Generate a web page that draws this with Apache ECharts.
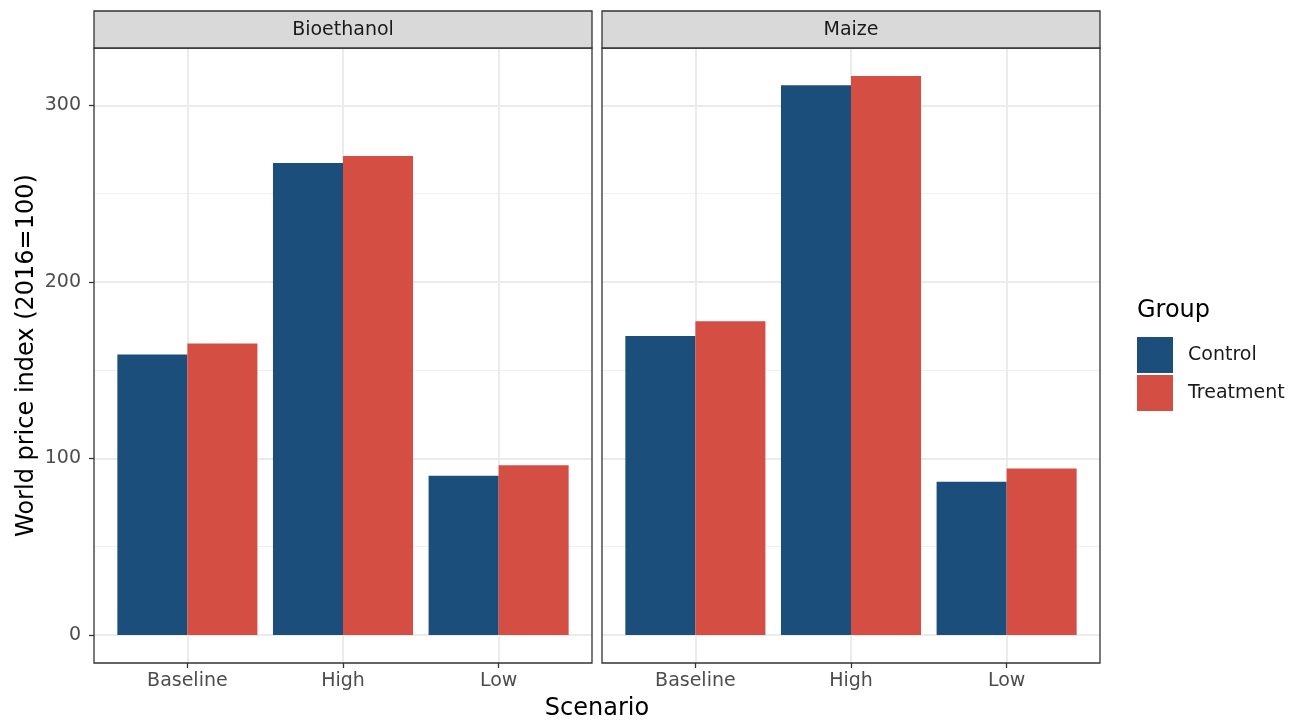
<!DOCTYPE html>
<html><head><meta charset="utf-8">
<script src="https://cdn.jsdelivr.net/npm/echarts@6/dist/echarts.min.js"></script>
<style>html,body{margin:0;padding:0;background:#fff}#c{width:1301px;height:722px}</style>
</head><body><div id="c"></div><script>
// ---- data ----
const facets = ['Bioethanol', 'Maize'];
const scenarios = ['Baseline', 'High', 'Low'];
const groups = ['Control', 'Treatment'];
const bioethanolControl = [158.9, 267.3, 90.2];
const bioethanolTreatment = [165.1, 271.3, 96.2];
const maizeControl = [169.4, 311.3, 86.8];
const maizeTreatment = [177.7, 316.6, 94.3];
const yTicks = [0, 100, 200, 300];
const xTitle = 'Scenario';
const yTitle = 'World price index (2016=100)';
const legendTitle = 'Group';

const facetValues = {
  Bioethanol: { Control: bioethanolControl, Treatment: bioethanolTreatment },
  Maize: { Control: maizeControl, Treatment: maizeTreatment }
};
const groupColors = { Control: '#1C4E7C', Treatment: '#D54E44' };

// ---- layout ----
const FONT = 'DejaVu Sans';
const panelX = [94, 602], panelW = 498, panelTop = 48, panelBot = 663, stripTop = 11;
const panelH = panelBot - panelTop;
const allVals = [].concat(bioethanolControl, bioethanolTreatment, maizeControl, maizeTreatment);
const dataMax = Math.max(...allVals);
const yMin = -0.05 * dataMax, yMax = 1.05 * dataMax;
const pxPerUnit = panelH / (yMax - yMin);
const unit = panelW / 3.2;
const tickMax = yTicks[yTicks.length - 1], tickMin = yTicks[0];
const tickInterval = yTicks[1] - yTicks[0];

const grid = [], xAxis = [], yAxis = [], series = [], graphic = [];
facets.forEach((f, i) => {
  const px = panelX[i];
  // border grid
  grid.push({ left: px, top: panelTop, width: panelW, height: panelH, show: true,
    borderColor: '#333333', borderWidth: 1.3, backgroundColor: 'rgba(0,0,0,0)', z: 5 });
  xAxis.push({ gridIndex: 3 * i, type: 'value', show: false, min: 0, max: 1 });
  yAxis.push({ gridIndex: 3 * i, type: 'value', show: false, min: 0, max: 1 });
  // gridline grid
  grid.push({ left: px, top: panelTop + (yMax - tickMax) * pxPerUnit, width: panelW,
    height: (tickMax - tickMin) * pxPerUnit });
  xAxis.push({ gridIndex: 3 * i + 1, type: 'value', show: false, min: 0, max: 1 });
  yAxis.push({ gridIndex: 3 * i + 1, type: 'value', min: tickMin, max: tickMax, interval: tickInterval,
    axisLine: { show: false },
    axisTick: { show: i === 0, length: 5, lineStyle: { color: '#333333', width: 1.3 } },
    axisLabel: { show: i === 0, fontSize: 19, color: '#4D4D4D', fontFamily: FONT, margin: 13 },
    splitLine: { show: true, lineStyle: { color: '#EBEBEB', width: 2 } },
    minorTick: { show: false, splitNumber: 2 },
    minorSplitLine: { show: true, lineStyle: { color: '#F0F0F0', width: 1 } } });
  // data grid
  grid.push({ left: px + 0.1 * unit, top: panelTop, width: 3 * unit, height: panelH });
  xAxis.push({ gridIndex: 3 * i + 2, type: 'category', data: scenarios,
    axisLine: { show: false, onZero: false },
    axisTick: { show: true, alignWithLabel: true, length: 5, lineStyle: { color: '#333333', width: 1.3 } },
    axisLabel: { fontSize: 19, color: '#4D4D4D', fontFamily: FONT, margin: 9 },
    splitLine: { show: false } });
  yAxis.push({ gridIndex: 3 * i + 2, type: 'value', show: false, min: yMin, max: yMax });

  // vertical major gridlines at category positions (helper series, no bars)
  series.push({
    type: 'line', name: 'grid-' + f, xAxisIndex: 3 * i + 2, yAxisIndex: 3 * i + 2,
    data: [], silent: true, z: 1,
    markLine: { silent: true, symbol: ['none', 'none'], z: 1, animation: false,
      label: { show: false }, lineStyle: { color: '#EBEBEB', width: 2, type: 'solid' },
      emphasis: { disabled: true },
      data: scenarios.map(c => ({ xAxis: c })) }
  });

  groups.forEach((g) => {
    series.push({
      type: 'bar', name: g, xAxisIndex: 3 * i + 2, yAxisIndex: 3 * i + 2,
      data: facetValues[f][g], barGap: '0%', barCategoryGap: '10%',
      itemStyle: { color: groupColors[g] }, z: 2,
      emphasis: { disabled: true }
    });
  });

  // facet strip
  graphic.push({ type: 'rect', shape: { x: px, y: stripTop, width: panelW, height: panelTop - stripTop },
    style: { fill: '#D9D9D9', stroke: '#333333', lineWidth: 1.3 }, z: 10 });
  graphic.push({ type: 'text', x: px + panelW / 2, y: (stripTop + panelTop) / 2 + 1, z: 11,
    style: { text: f, fontSize: 19, fontFamily: FONT, fill: '#1A1A1A', align: 'center', verticalAlign: 'middle' } });
});

graphic.push({ type: 'text', x: (panelX[0] + panelX[1] + panelW) / 2, y: 709,
  style: { text: xTitle, fontSize: 24, fontFamily: FONT, fill: '#000', align: 'center', verticalAlign: 'middle' } });
graphic.push({ type: 'text', x: 27, y: (panelTop + panelBot) / 2, rotation: Math.PI / 2,
  style: { text: yTitle, fontSize: 24, fontFamily: FONT, fill: '#000', align: 'center', verticalAlign: 'middle' } });
graphic.push({ type: 'text', x: 1137, y: 311,
  style: { text: legendTitle, fontSize: 24, fontFamily: FONT, fill: '#000', align: 'left', verticalAlign: 'middle' } });

const chart = echarts.init(document.getElementById('c'), null, { renderer: 'canvas' });
chart.setOption({
  animation: false,
  backgroundColor: '#ffffff',
  grid, xAxis, yAxis, series, graphic,
  legend: {
    data: groups, orient: 'vertical', left: 1137, top: 337, padding: 0,
    itemWidth: 36, itemHeight: 36, itemGap: 2, icon: 'rect', selectedMode: false,
    textStyle: { fontSize: 19, color: '#1A1A1A', fontFamily: FONT, padding: [0, 0, 0, 10] }
  }
});
</script></body></html>
